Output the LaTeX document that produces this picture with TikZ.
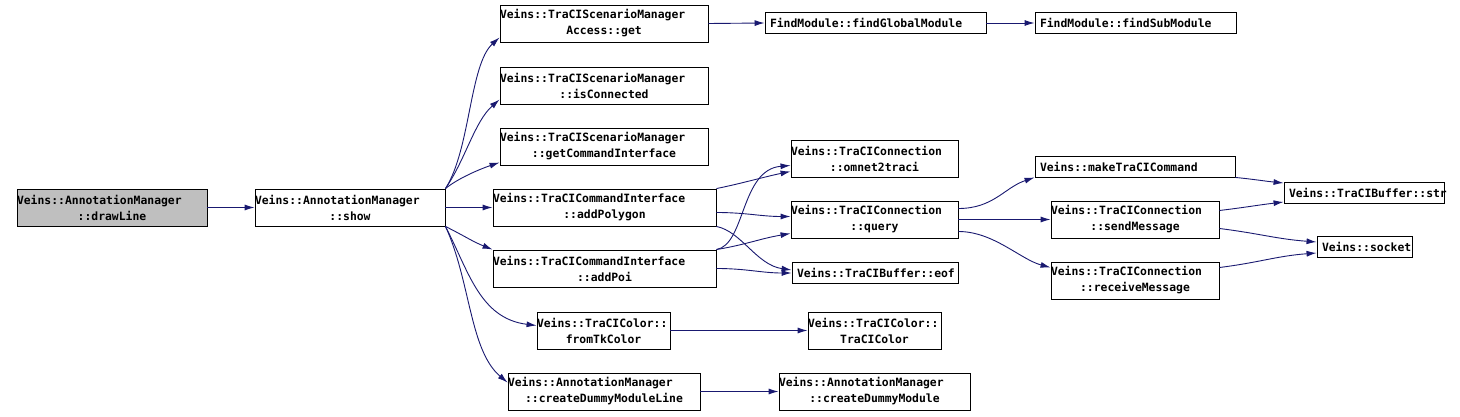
\documentclass[tikz,border=0pt]{standalone}
\usepackage{fontspec}
\setmonofont{DejaVu Sans Mono}
\usetikzlibrary{arrows.meta}
\definecolor{edgeblue}{HTML}{191970}
\definecolor{callergray}{HTML}{BFBFBF}
\newcommand{\headline}[1]{\makebox[\linewidth][l]{#1}}
\newcommand{\oneline}[1]{\makebox[\linewidth][l]{\hspace{5pt}#1}}

\begin{document}
\begin{tikzpicture}[x=1pt, y=1pt]

  \tikzset{
    fnnode/.style={
        shape=rectangle,
        draw=black,
        line width=0.9pt,
        fill=white,
        inner sep=0pt,
        text width=#1,
        minimum height=37pt,
        align=center,
        font={\fontsize{11.4}{16}\selectfont\ttfamily\bfseries}
      },
    shortnode/.style={fnnode=#1, minimum height=21pt},
    calls/.style={draw=edgeblue, line width=0.9pt, -{Latex[length=10pt,width=6pt]}}
  }
  \useasboundingbox (0,0) rectangle (1460,-417);

  \node[fnnode=190pt, fill=callergray] (drawLine) at (112,-207.5) {\headline{Veins::AnnotationManager}\\::drawLine};
  \node[fnnode=190pt] (show) at (350,-207.5) {\headline{Veins::AnnotationManager}\\::show};

  \node[fnnode=208pt] (access) at (604,-23.5) {\headline{Veins::TraCIScenarioManager}\\Access::get};
  \node[fnnode=208pt] (isConnected) at (604,-85.5) {\headline{Veins::TraCIScenarioManager}\\::isConnected};
  \node[fnnode=208pt] (getCommandInterface) at (604,-146.5) {\headline{Veins::TraCIScenarioManager}\\::getCommandInterface};
  \node[fnnode=223pt] (addPolygon) at (604.5,-207.5) {\headline{Veins::TraCICommandInterface}\\::addPolygon};
  \node[fnnode=223pt] (addPoi) at (604.5,-268.5) {\headline{Veins::TraCICommandInterface}\\::addPoi};
  \node[fnnode=133pt] (fromTkColor) at (603.5,-330.5) {\headline{Veins::TraCIColor::}\\fromTkColor};
  \node[fnnode=192pt] (createDummyModuleLine) at (604,-391.5) {\headline{Veins::AnnotationManager}\\::createDummyModuleLine};

  \node[shortnode=221pt] (findGlobalModule) at (875.5,-23) {\oneline{FindModule::findGlobalModule}};
  \node[shortnode=201pt] (findSubModule) at (1135.5,-23) {\oneline{FindModule::findSubModule}};
  \node[fnnode=167pt] (omnet2traci) at (874.5,-158.5) {\headline{Veins::TraCIConnection}\\::omnet2traci};
  \node[fnnode=167pt] (query) at (874.5,-219.5) {\headline{Veins::TraCIConnection}\\::query};
  \node[shortnode=166pt] (eof) at (875,-273) {\oneline{Veins::TraCIBuffer::eof}};
  \node[fnnode=133pt] (traciColor) at (874.5,-330.5) {\headline{Veins::TraCIColor::}\\TraCIColor};
  \node[fnnode=191pt] (createDummyModule) at (874.5,-391.5) {\headline{Veins::AnnotationManager}\\::createDummyModule};

  \node[shortnode=200pt] (makeTraCICommand) at (1135,-166.5) {\oneline{Veins::makeTraCICommand}};
  \node[fnnode=168pt] (sendMessage) at (1135,-219.5) {\headline{Veins::TraCIConnection}\\::sendMessage};
  \node[fnnode=168pt] (receiveMessage) at (1135,-280.5) {\headline{Veins::TraCIConnection}\\::receiveMessage};
  \node[shortnode=160pt] (bufferStr) at (1364,-193) {\oneline{Veins::TraCIBuffer::str}};
  \node[shortnode=95pt] (socket) at (1364.5,-247) {\oneline{Veins::socket}};

  \draw[calls] (drawLine) -- (show);
  \draw[calls] (show.north east) .. controls +(25,39) and +(-30,-27) .. ([yshift=-14pt]access.west);
  \draw[calls] (show.north east) .. controls +(20,29) and +(-25,-22) .. ([yshift=-14pt]isConnected.west);
  \draw[calls] (show.north east) .. controls +(15,12) and +(-15,-5) .. ([yshift=-16pt]getCommandInterface.west);
  \draw[calls] (show) -- (addPolygon);
  \draw[calls] (show.south east) .. controls +(20,-10) and +(-20,8) .. (addPoi.north west);
  \draw[calls] (show.south east) .. controls +(23,-44) and +(-57,7) .. ([yshift=5pt]fromTkColor.west);
  \draw[calls] (show.south east) .. controls +(25,-54) and +(-38,32) .. ([yshift=9pt]createDummyModuleLine.west);

  \draw[calls] (access.east) -- (findGlobalModule.west);
  \draw[calls] (findGlobalModule) -- (findSubModule);
  \draw[calls] (addPolygon.north east) .. controls +(25,5) and +(-25,-5) .. ([yshift=-13pt]omnet2traci.west);
  \draw[calls] ([yshift=-5pt]addPolygon.east) .. controls +(30,0) and +(-30,0) .. ([yshift=3pt]query.west);
  \draw[calls] (addPolygon.south east) .. controls +(25,-5) and +(-35,5) .. ([yshift=3pt]eof.west);
  \draw[calls] (addPoi.north east) .. controls +(29,5) and +(-50,-4) .. ([yshift=-7pt]omnet2traci.west);
  \draw[calls] (addPoi.north east) .. controls +(30,5) and +(-30,-5) .. ([yshift=-14pt]query.west);
  \draw[calls] (addPoi.east) .. controls +(30,0) and +(-30,0) .. (eof.west);
  \draw[calls] (fromTkColor) -- (traciColor);
  \draw[calls] (createDummyModuleLine) -- (createDummyModule);

  \draw[calls] ([yshift=11pt]query.east) .. controls +(35,0) and +(-30,-10) .. (makeTraCICommand.south west);
  \draw[calls] (query) -- (sendMessage);
  \draw[calls] ([yshift=-12pt]query.east) .. controls +(35,0) and +(-30,8) .. ([yshift=13pt]receiveMessage.west);
  \draw[calls] (makeTraCICommand.south east) .. controls +(20,-2) and +(-20,2) .. ([yshift=10pt]bufferStr.west);
  \draw[calls] ([yshift=9pt]sendMessage.east) .. controls +(25,3) and +(-25,-3) .. ([yshift=-9pt]bufferStr.west);
  \draw[calls] ([yshift=-9pt]sendMessage.east) .. controls +(40,-5) and +(-40,3) .. ([yshift=5pt]socket.west);
  \draw[calls] ([yshift=13pt]receiveMessage.east) .. controls +(40,5) and +(-40,-3) .. ([yshift=-6pt]socket.west);

\end{tikzpicture}
\end{document}
